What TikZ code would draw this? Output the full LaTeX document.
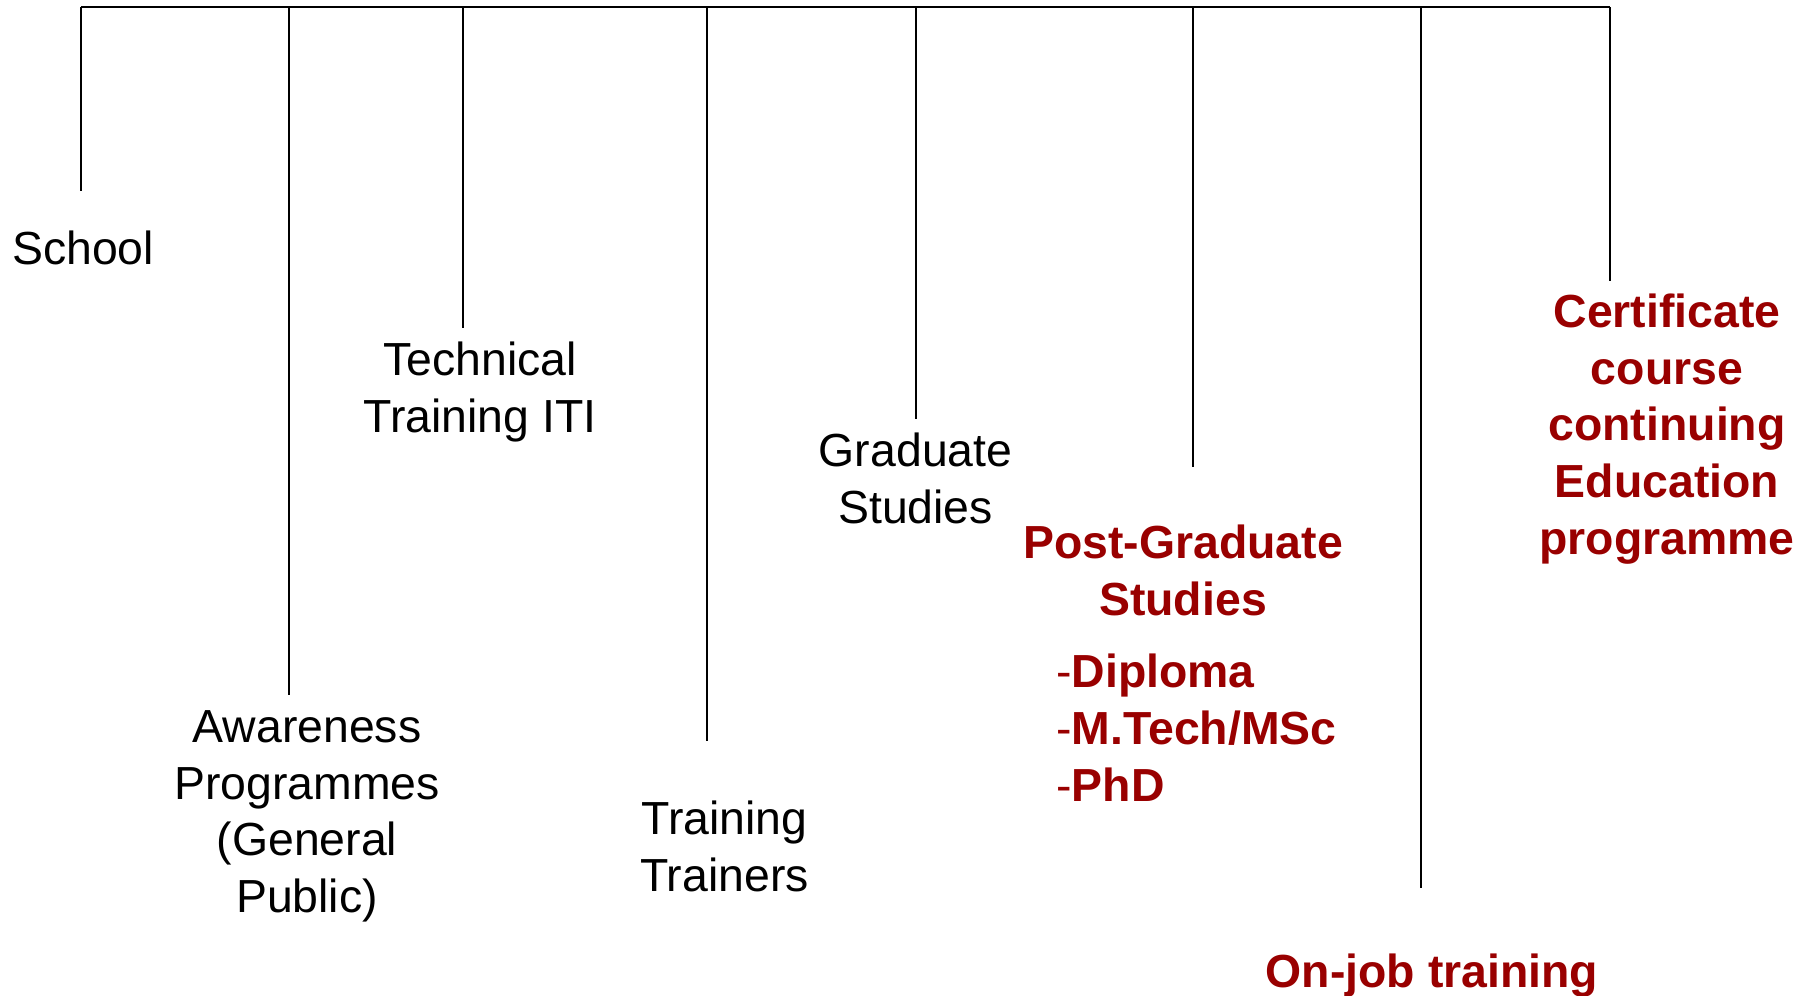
\documentclass[tikz,border=0pt]{standalone}
\usepackage{fontspec}
\setmainfont{Liberation Sans}
\usetikzlibrary{positioning}
\definecolor{maroon}{RGB}{153,0,0}

\tikzset{
  branch/.style={-,line width=0.6pt,black},
  plainlabel/.style={align=center,inner sep=0pt,anchor=base,font=\fontsize{13.2pt}{16.1pt}\selectfont},
  redlabel/.style={plainlabel,text=maroon,font=\fontsize{13.2pt}{16.1pt}\selectfont\bfseries},
  listlabel/.style={redlabel,align=left,anchor=base west}
}

\begin{document}
\begin{tikzpicture}
\useasboundingbox (0,0) rectangle (18.15,-9.95);
\coordinate (busSchool) at (0.81,-0.07);
\coordinate (busAware) at (2.894,-0.07);
\coordinate (busTech) at (4.63,-0.07);
\coordinate (busTrain) at (7.07,-0.07);
\coordinate (busGrad) at (9.156,-0.07);
\coordinate (busPost) at (11.934,-0.07);
\coordinate (busJob) at (14.214,-0.07);
\coordinate (busCert) at (16.10,-0.07);
\coordinate (endSchool) at (0.81,-1.91);
\coordinate (endAware) at (2.894,-6.945);
\coordinate (endTech) at (4.63,-3.276);
\coordinate (endTrain) at (7.07,-7.41);
\coordinate (endGrad) at (9.156,-4.19);
\coordinate (endPost) at (11.934,-4.665);
\coordinate (endJob) at (14.214,-8.88);
\coordinate (endCert) at (16.10,-2.81);
\node[plainlabel] (school) at (0.83,-2.64) {School};
\node[plainlabel] (aware) at (3.07,-9.125) {Awareness\\Programmes\\(General\\Public)};
\node[plainlabel] (tech) at (4.80,-4.325) {Technical\\Training ITI};
\node[plainlabel] (train) at (7.245,-8.915) {Training\\Trainers};
\node[plainlabel] (grad) at (9.156,-5.235) {Graduate\\Studies};
\node[redlabel] (post) at (11.83,-6.155) {Post-Graduate\\Studies};
\node[listlabel] (degrees) at (10.556,-8.01) {{\mdseries-}Diploma\\{\mdseries-}M.Tech/MSc\\{\mdseries-}PhD};
\node[redlabel] (job) at (14.32,-9.87) {On-job training};
\node[redlabel] (cert) at (16.67,-5.54) {Certificate\\course\\continuing\\Education\\programme};
\draw[branch] (busSchool) -- (busCert);
\draw[branch] (busSchool) -- (endSchool);
\draw[branch] (busAware) -- (endAware);
\draw[branch] (busTech) -- (endTech);
\draw[branch] (busTrain) -- (endTrain);
\draw[branch] (busGrad) -- (endGrad);
\draw[branch] (busPost) -- (endPost);
\draw[branch] (busJob) -- (endJob);
\draw[branch] (busCert) -- (endCert);
\end{tikzpicture}
\end{document}
